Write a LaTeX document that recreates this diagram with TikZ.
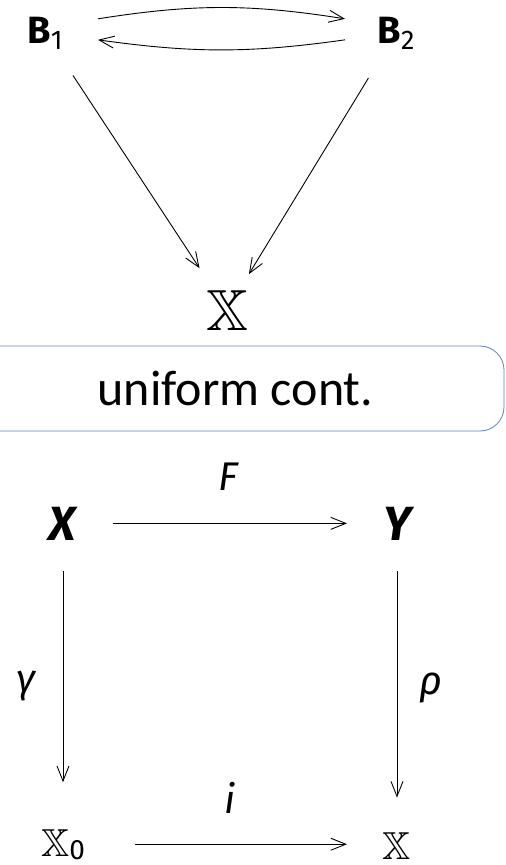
\documentclass[tikz,border=0pt]{standalone}
\usepackage{fontspec}
\usepackage{amssymb}
\usetikzlibrary{arrows.meta}
\newfontfamily\mf{Fira Sans}
\newfontfamily\cf{Carlito}
\definecolor{boxblue}{RGB}{95,128,190}
\tikzset{
  arr/.style={line width=0.9pt, -{Straight Barb[length=15pt,width=12pt,line width=0.9pt]}},
  lab/.style={inner sep=0pt, font=\mf\itshape\fontsize{40}{44}\selectfont},
  obj/.style={inner sep=0pt, anchor=base},
  ucbox/.style={draw=boxblue, line width=0.8pt, rounded corners=24pt, minimum width=537pt, minimum height=85pt, inner sep=0pt, font=\cf\fontsize{50}{54}\selectfont},
}
\newcommand{\bbX}[1]{\fontsize{#1}{#1}\selectfont$\mathbb{X}$}
\begin{document}
\begin{tikzpicture}[x=1pt,y=1pt]
\useasboundingbox (0,0) rectangle (506,-865);
\clip (0,0) rectangle (506,-865);
% top part
\node[obj] (B1) at (45,-43) {{\mf\bfseries\fontsize{38}{40}\selectfont B}\raisebox{-6pt}{\mf\fontsize{27}{29}\selectfont 1}};
\node[obj] (B2) at (396,-43) {{\mf\bfseries\fontsize{38}{40}\selectfont B}\raisebox{-6pt}{\mf\fontsize{27}{29}\selectfont 2}};
\node[obj] (XT) at (227,-330) {\bbX{58}};
\draw[arr] ([shift={(53,14)}]B1.center) to[bend left=9] ([shift={(-51,14)}]B2.center);
\draw[arr] ([shift={(-51,-7)}]B2.center) to[bend left=8] ([shift={(53,-7)}]B1.center);
\draw[arr, shorten <=51pt, shorten >=50pt] (B1.center) -- (XT.center);
\draw[arr, shorten <=53pt, shorten >=42pt] (B2.center) -- (XT.center);
% box
\node[ucbox] (uc) at (235.5,-388.5) {uniform cont.};
% square
\node[obj] (X) at (62,-540) {\mf\bfseries\itshape\fontsize{48}{50}\selectfont X};
\node[obj] (Y) at (398,-540) {\mf\bfseries\itshape\fontsize{48}{50}\selectfont Y};
\node[obj] (X0) at (63,-856) {\bbX{39}\raisebox{-3pt}{\mf\fontsize{28}{30}\selectfont 0}};
\node[obj] (XB) at (397,-859) {\bbX{39}};
\draw[arr, shorten <=51pt, shorten >=51pt] (X.center) -- (Y.center);
\draw[arr, shorten <=48pt, shorten >=62pt] (X.center -| X0.center) -- (X0.center);
\draw[arr, shorten <=48pt, shorten >=48pt] (Y.center -| XB.center) -- (XB.center);
\draw[arr, shorten <=72pt, shorten >=50pt] (X0.center) -- (X0.center -| XB.center);
\node[lab] (lF) at (228,-477) {F};
\node[lab] (li) at (230,-798) {i};
\node[lab] (lg) at (26,-686) {γ};
\node[lab] (lr) at (431,-688) {ρ};
\end{tikzpicture}
\end{document}
